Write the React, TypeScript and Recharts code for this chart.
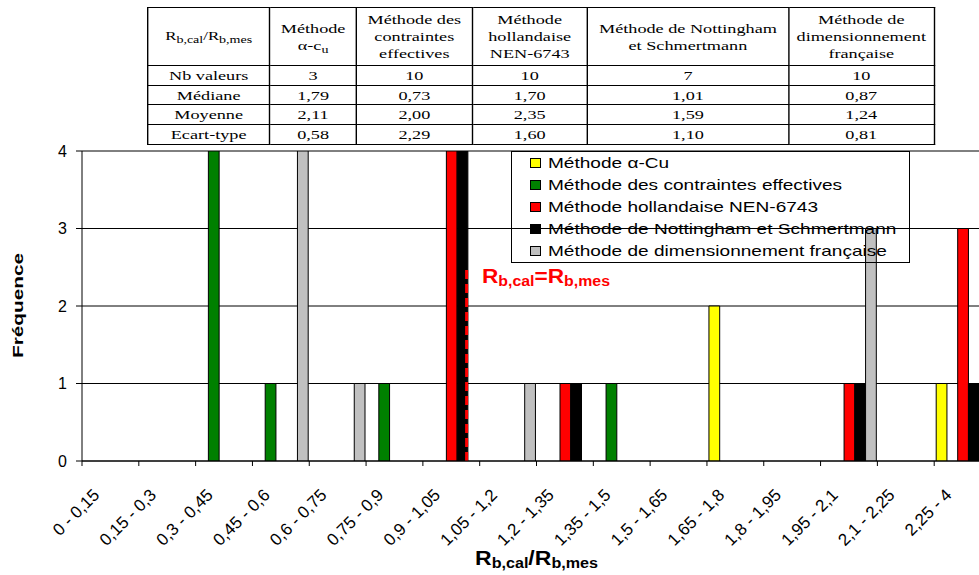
import React from "react";
import { Bar, BarChart, CartesianGrid, ReferenceLine, XAxis, YAxis } from "recharts";

// bins of Rb,cal/Rb,mes
const categories = [
  "0 - 0,15",
  "0,15 - 0,3",
  "0,3 - 0,45",
  "0,45 - 0,6",
  "0,6 - 0,75",
  "0,75 - 0,9",
  "0,9 - 1,05",
  "1,05 - 1,2",
  "1,2 - 1,35",
  "1,35 - 1,5",
  "1,5 - 1,65",
  "1,65 - 1,8",
  "1,8 - 1,95",
  "1,95 - 2,1",
  "2,1 - 2,25",
  "2,25 - 4",
];

// frequencies per bin
const alphaCu = [0, 0, 0, 0, 0, 0, 0, 0, 0, 0, 0, 2, 0, 0, 0, 1];
const contraintes = [0, 0, 4, 1, 0, 1, 0, 0, 0, 1, 0, 0, 0, 0, 0, 0];
const hollandaise = [0, 0, 0, 0, 0, 0, 4, 0, 1, 0, 0, 0, 0, 1, 0, 3];
const nottingham = [0, 0, 0, 0, 0, 0, 4, 0, 1, 0, 0, 0, 0, 1, 0, 1];
const francaise = [0, 0, 0, 4, 1, 0, 0, 1, 0, 0, 0, 0, 0, 3, 0, 1];

const yTicks = [0, 1, 2, 3, 4];

// the Rb,cal = Rb,mes line: bin it sits in, fraction of the bin past its centre, and height
const refBin = "0,9 - 1,05";
const refShift = 0.27;
const refTop = 2.5;

// stats table
const statLabels = ["Nb valeurs", "Médiane", "Moyenne", "Ecart-type"];
const nbValeurs = ["3", "10", "10", "7", "10"];
const medianes = ["1,79", "0,73", "1,70", "1,01", "0,87"];
const moyennes = ["2,11", "2,00", "2,35", "1,59", "1,24"];
const ecartTypes = ["0,58", "2,29", "1,60", "1,10", "0,81"];
const statRows = [nbValeurs, medianes, moyennes, ecartTypes];

const methods = [
  { key: "alphaCu", name: "Méthode α-Cu", color: "#FFFF00", values: alphaCu },
  { key: "contraintes", name: "Méthode des contraintes effectives", color: "#008000", values: contraintes },
  { key: "hollandaise", name: "Méthode hollandaise NEN-6743", color: "#FF0000", values: hollandaise },
  { key: "nottingham", name: "Méthode de Nottingham et Schmertmann", color: "#000000", values: nottingham },
  { key: "francaise", name: "Méthode de dimensionnement française", color: "#C0C0C0", values: francaise },
];

const data = categories.map((label, i) => {
  const row: Record<string, string | number> = { label };
  methods.forEach((m) => {
    row[m.key] = m.values[i];
  });
  return row;
});

const CHART_W = 1000;
const CHART_H = 575;
const MARGIN = { top: 151, right: 9, bottom: 14, left: 0 };
const Y_AXIS_W = 82;
const PLOT_W = CHART_W - MARGIN.left - MARGIN.right - Y_AXIS_W;
const BAND = PLOT_W / categories.length;

const sans = "'Liberation Sans', Arial, sans-serif";
const serif = "'Liberation Serif', 'Times New Roman', serif";

function CategoryTick(props: any) {
  const { x, y, payload, index } = props;
  const left = x - BAND / 2;
  const tx = x - 10;
  const ty = y + 35;
  return (
    <g>
      <line x1={left} x2={left} y1={y} y2={y + 5} stroke="#000" />
      {index === categories.length - 1 && (
        <line x1={x + BAND / 2} x2={x + BAND / 2} y1={y} y2={y + 5} stroke="#000" />
      )}
      <text
        x={tx}
        y={ty}
        transform={`rotate(-45, ${tx}, ${ty})`}
        textAnchor="end"
        fontSize={17}
        fontFamily={sans}
        fill="#000"
      >
        {payload.value}
      </text>
    </g>
  );
}

function RefShape(props: any) {
  const dx = refShift * BAND;
  return (
    <line
      x1={props.x1 + dx}
      x2={props.x2 + dx}
      y1={props.y1}
      y2={props.y2}
      stroke="#FF0000"
      strokeWidth={3}
      strokeDasharray="9 5"
    />
  );
}

const cell: React.CSSProperties = {
  border: "1px solid #000",
  padding: 0,
  textAlign: "center",
  verticalAlign: "middle",
  lineHeight: "17px",
  whiteSpace: "nowrap",
};

const sub: React.CSSProperties = { fontSize: 10, verticalAlign: "-3px", lineHeight: 0 };

const colWidths = [87.1, 62.1, 82.5, 82.3, 143.8, 103.8];

function StatsTable() {
  return (
    <div style={{ position: "absolute", left: 147, top: 7, transform: "scaleX(1.4)", transformOrigin: "0 0" }}>
      <table
        style={{
          borderCollapse: "collapse",
          tableLayout: "fixed",
          width: 561.6,
          fontFamily: serif,
          fontSize: 13,
          color: "#000",
        }}
      >
        <colgroup>
          {colWidths.map((w, i) => (
            <col key={i} style={{ width: w }} />
          ))}
        </colgroup>
        <tbody>
          <tr style={{ height: 58 }}>
            <td style={{ ...cell, fontSize: 12 }}>
              R<span style={sub}>b,cal</span>/R<span style={sub}>b,mes</span>
            </td>
            <td style={cell}>
              Méthode
              <br />
              α-c<span style={sub}>u</span>
            </td>
            <td style={cell}>
              Méthode des
              <br />
              contraintes
              <br />
              effectives
            </td>
            <td style={cell}>
              Méthode
              <br />
              hollandaise
              <br />
              NEN-6743
            </td>
            <td style={cell}>
              Méthode de Nottingham
              <br />
              et Schmertmann
            </td>
            <td style={cell}>
              Méthode de
              <br />
              dimensionnement
              <br />
              française
            </td>
          </tr>
          {statRows.map((vals, r) => (
            <tr key={r} style={{ height: 19.7 }}>
              <td style={cell}>{statLabels[r]}</td>
              {vals.map((v, c) => (
                <td key={c} style={cell}>
                  {v}
                </td>
              ))}
            </tr>
          ))}
        </tbody>
      </table>
    </div>
  );
}

function LegendBox() {
  return (
    <div
      style={{
        position: "absolute",
        left: 511,
        top: 151,
        width: 399,
        height: 112,
        boxSizing: "border-box",
        border: "1px solid #000",
        fontFamily: sans,
        fontSize: 15,
        color: "#000",
      }}
    >
      {methods.map((m) => (
        <div key={m.key} style={{ height: 22, position: "relative" }}>
          <div
            style={{
              position: "absolute",
              left: 18,
              top: 6,
              width: 11,
              height: 10,
              boxSizing: "border-box",
              border: "1px solid #000",
              background: m.color,
            }}
          />
          <span
            style={{
              position: "absolute",
              left: 36,
              top: 2,
              whiteSpace: "nowrap",
              transform: "scaleX(1.27)",
              transformOrigin: "0 50%",
              lineHeight: "18px",
            }}
          >
            {m.name}
          </span>
        </div>
      ))}
    </div>
  );
}

function Titles() {
  return (
    <svg
      width={979}
      height={575}
      style={{ position: "absolute", left: 0, top: 0, pointerEvents: "none" }}
      fontFamily={sans}
    >
      <text
        transform="translate(23,305.5) rotate(-90)"
        textAnchor="middle"
        fontSize={15}
        fontWeight="bold"
        textLength={105}
        lengthAdjust="spacingAndGlyphs"
        fill="#000"
      >
        Fréquence
      </text>
      <text
        x={475}
        y={565}
        fontSize={20}
        fontWeight="bold"
        textLength={123}
        lengthAdjust="spacingAndGlyphs"
        fill="#000"
      >
        R
        <tspan fontSize={14} dy={3}>
          b,cal
        </tspan>
        <tspan dy={-3}>/R</tspan>
        <tspan fontSize={14} dy={3}>
          b,mes
        </tspan>
      </text>
      <text
        x={482}
        y={283}
        fontSize={20}
        fontWeight="bold"
        textLength={128}
        lengthAdjust="spacingAndGlyphs"
        fill="#FF0000"
      >
        R
        <tspan fontSize={14} dy={3}>
          b,cal
        </tspan>
        <tspan dy={-3}>=R</tspan>
        <tspan fontSize={14} dy={3}>
          b,mes
        </tspan>
      </text>
    </svg>
  );
}

export default function App() {
  return (
    <div
      style={{
        position: "absolute",
        left: 0,
        top: 0,
        width: 979,
        height: 575,
        overflow: "hidden",
        background: "#fff",
      }}
    >
      <BarChart
        width={CHART_W}
        height={CHART_H}
        data={data}
        margin={MARGIN}
        barGap={0}
        barCategoryGap={1}
        style={{ fontFamily: sans }}
      >
        <CartesianGrid vertical={false} stroke="#000" />
        <XAxis
          dataKey="label"
          type="category"
          interval={0}
          height={100}
          tickLine={false}
          tickSize={0}
          tickMargin={0}
          axisLine={{ stroke: "#000" }}
          tick={<CategoryTick />}
        />
        <YAxis
          width={Y_AXIS_W}
          domain={[0, 4]}
          ticks={yTicks}
          allowDataOverflow
          tickSize={6}
          tickMargin={9}
          axisLine={{ stroke: "#000" }}
          tickLine={{ stroke: "#000" }}
          tick={{ fontSize: 16, fill: "#000", fontFamily: sans }}
        />
        {methods.map((m) => (
          <Bar
            key={m.key}
            dataKey={m.key}
            name={m.name}
            fill={m.color}
            stroke="#000"
            strokeWidth={1}
            barSize={10.75}
            isAnimationActive={false}
          />
        ))}
        <ReferenceLine
          segment={[
            { x: refBin, y: 0 },
            { x: refBin, y: refTop },
          ]}
          shape={<RefShape />}
        />
      </BarChart>
      <StatsTable />
      <LegendBox />
      <Titles />
    </div>
  );
}
